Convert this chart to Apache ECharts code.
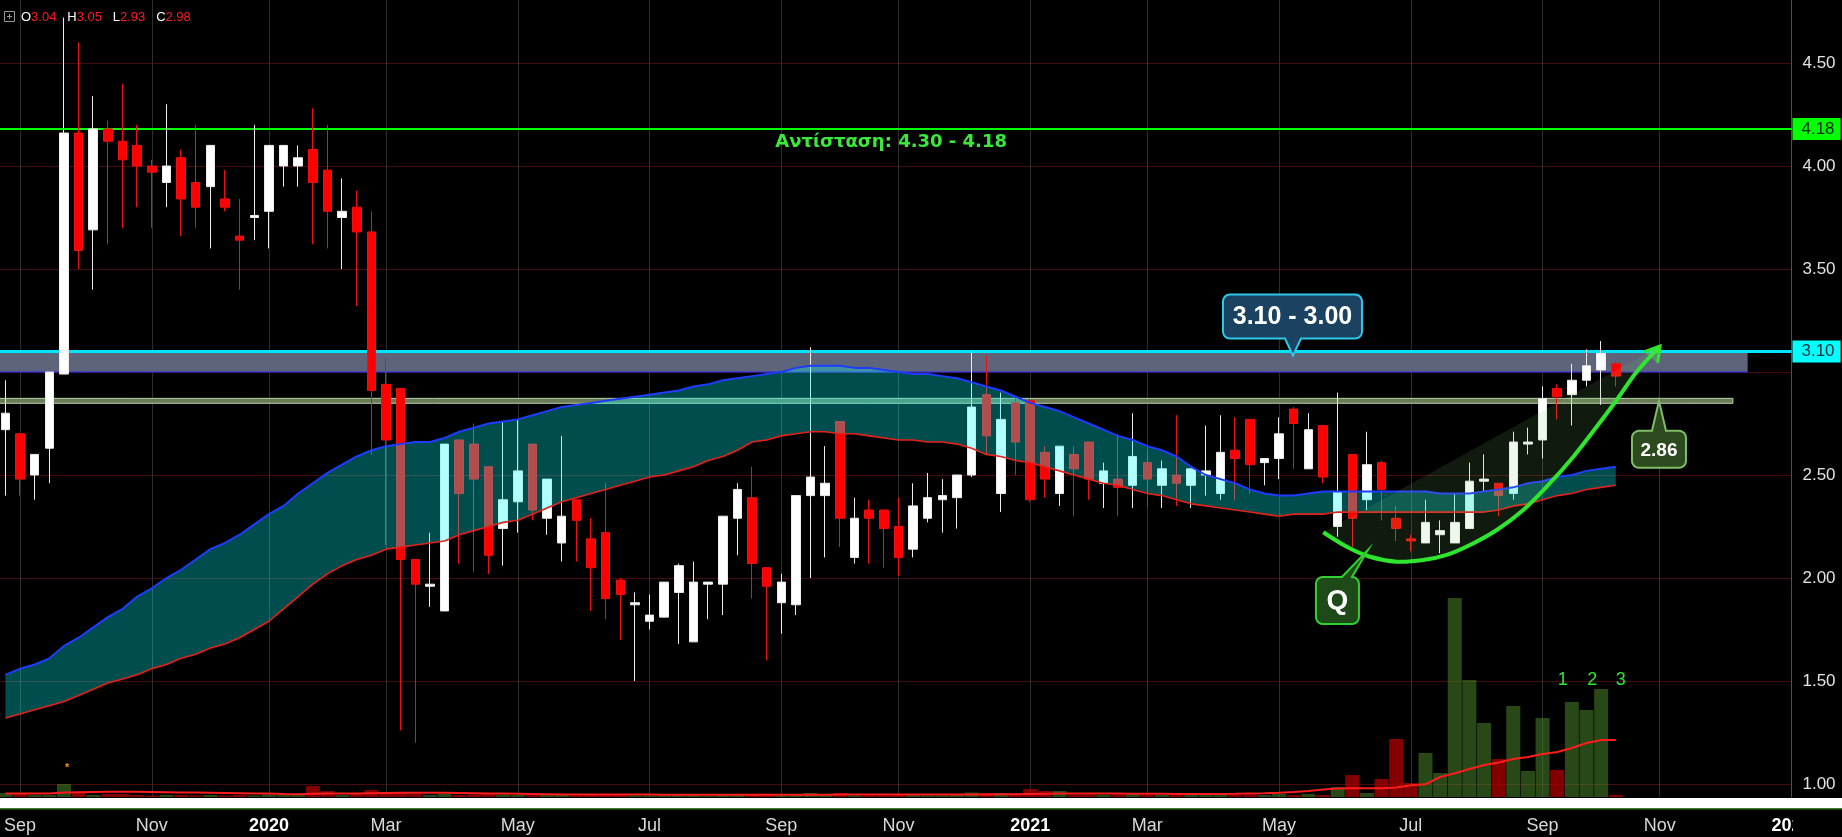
<!DOCTYPE html>
<html>
<head>
<meta charset="utf-8">
<title>Weekly chart</title>
<script src="https://cdn.jsdelivr.net/npm/echarts@6.0.0/dist/echarts.min.js"></script>
<style>
html, body { margin: 0; padding: 0; background: #000; overflow: hidden; }
#chart { width: 1842px; height: 837px; }
</style>
</head>
<body>
<div id="chart"></div>
<script>
// Weekly bars; the first bar is the week of 2019-08-26.
const firstWeek = '2019-08-26';

const opens = [
  2.72,2.70,2.50,2.63,2.99,4.16,3.69,4.18,4.12,4.10,
  4.00,3.92,4.04,3.92,3.90,3.84,3.66,3.75,3.78,4.00,
  4.00,4.08,3.98,3.75,3.80,3.68,2.94,2.92,2.09,1.96,
  1.84,2.67,2.65,2.54,2.24,2.37,2.65,2.29,2.17,2.38,
  2.19,2.22,1.99,1.87,1.79,1.81,1.93,1.69,1.97,1.97,
  2.29,2.39,2.05,1.88,1.87,2.40,2.40,2.76,2.10,2.33,
  2.33,2.25,2.14,2.29,2.38,2.39,2.50,2.89,2.41,2.85,
  2.86,2.61,2.41,2.60,2.66,2.46,2.48,2.45,2.56,2.45,
  2.50,2.45,2.50,2.41,2.62,2.77,2.56,2.58,2.82,2.53,
  2.74,2.25,2.60,2.38,2.56,2.29,2.19,2.17,2.21,2.17,
  2.24,2.47,2.46,2.41,2.65,2.67,2.92,2.89,2.96,3.01,3.04
];
const highs = [
  2.96,2.70,2.60,3.00,4.72,4.60,4.34,4.22,4.40,4.20,
  4.03,4.30,4.08,4.20,4.10,3.98,3.84,4.20,4.10,4.10,
  4.10,4.28,4.20,3.94,3.88,3.78,3.07,2.92,2.09,2.22,
  2.65,2.67,2.75,2.54,2.76,2.77,2.65,2.48,2.69,2.38,
  2.29,2.46,2.00,1.93,1.92,1.98,2.07,2.08,1.98,2.30,
  2.46,2.54,2.05,2.02,2.40,3.12,2.64,2.76,2.39,2.38,
  2.33,2.39,2.46,2.51,2.48,2.50,3.10,3.08,2.90,2.88,
  2.87,2.64,2.64,2.64,2.66,2.56,2.70,2.80,2.62,2.57,
  2.79,2.53,2.74,2.79,2.78,2.77,2.58,2.78,2.83,2.80,
  2.74,2.90,2.60,2.71,2.57,2.35,2.21,2.38,2.28,2.41,
  2.56,2.60,2.46,2.71,2.73,2.93,2.94,3.04,3.11,3.15,3.05
];
const lows = [
  2.40,2.40,2.38,2.46,2.99,3.50,3.40,3.62,3.70,3.80,
  3.70,3.80,3.66,3.70,3.60,3.78,3.40,3.64,3.60,3.90,
  3.90,3.62,3.60,3.50,3.32,2.60,2.16,1.26,1.20,1.86,
  1.84,2.07,2.03,2.02,2.06,2.22,2.28,2.21,2.08,2.08,
  1.84,1.80,1.70,1.50,1.75,1.81,1.68,1.69,1.80,1.82,
  2.11,1.90,1.60,1.73,1.82,2.00,2.10,2.15,2.07,2.07,
  2.05,2.01,2.10,2.27,2.22,2.24,2.49,2.60,2.32,2.50,
  2.37,2.39,2.35,2.30,2.38,2.34,2.30,2.34,2.34,2.34,
  2.35,2.34,2.40,2.38,2.38,2.41,2.45,2.48,2.53,2.53,
  2.46,2.20,2.15,2.33,2.28,2.18,2.13,2.17,2.12,2.17,
  2.24,2.42,2.30,2.38,2.60,2.58,2.77,2.74,2.93,2.84,2.93
];
const closes = [
  2.80,2.48,2.60,3.00,4.16,3.59,4.18,4.12,4.03,4.00,
  3.97,4.00,3.84,3.80,4.10,3.80,3.64,3.76,4.10,4.10,
  4.04,3.92,3.78,3.78,3.68,2.91,2.67,2.09,1.97,1.97,
  2.65,2.41,2.48,2.11,2.38,2.52,2.33,2.48,2.30,2.28,
  2.05,1.90,1.92,1.88,1.82,1.98,2.06,1.98,1.98,2.30,
  2.43,2.07,1.96,1.98,2.40,2.49,2.46,2.29,2.29,2.29,
  2.24,2.10,2.35,2.39,2.40,2.50,2.83,2.69,2.77,2.66,
  2.38,2.48,2.64,2.53,2.48,2.52,2.44,2.59,2.48,2.53,
  2.46,2.53,2.52,2.61,2.58,2.55,2.58,2.70,2.75,2.72,
  2.49,2.42,2.29,2.55,2.43,2.24,2.18,2.27,2.23,2.27,
  2.47,2.48,2.40,2.66,2.66,2.87,2.88,2.96,3.03,3.09,2.98
];
// Weekly volume, thousands of shares
const volumes = [
  40,40,20,20,130,50,20,30,30,20,
  15,20,20,15,20,15,20,15,25,20,
  20,110,60,20,30,70,45,50,30,20,
  30,20,25,30,25,20,25,20,25,15,
  20,30,20,15,15,20,20,20,10,25,
  20,30,25,15,25,40,20,40,15,15,
  15,20,20,15,15,20,45,40,40,35,
  80,60,60,25,25,20,25,30,20,20,
  25,20,20,30,20,25,20,30,20,30,
  20,100,220,40,180,580,140,440,240,1990,
  1170,740,380,910,260,790,270,950,870,1080,20
];
const volumeAvg = [
  35,36,36,36,45,48,50,52,52,52,
  50,48,46,44,42,40,38,36,34,30,
  28,32,34,34,35,38,40,42,42,42,
  42,40,38,36,34,32,30,28,26,25,
  25,25,24,24,24,23,23,22,22,22,
  22,22,22,22,22,23,23,24,24,24,
  24,24,24,24,24,24,25,26,27,28,
  30,32,34,34,34,34,34,33,32,32,
  30,30,30,30,32,35,38,42,50,60,
  75,85,87,87,87,95,118,127,200,237,
  280,320,345,380,400,430,450,490,540,570,570
];
// Moving-average envelope (upper / lower)
const bandUpper = [
  1.53,1.56,1.58,1.61,1.67,1.71,1.76,1.81,1.85,1.91,
  1.95,2.00,2.04,2.09,2.14,2.17,2.21,2.26,2.31,2.35,
  2.41,2.46,2.51,2.55,2.59,2.62,2.64,2.65,2.66,2.66,
  2.68,2.71,2.73,2.75,2.76,2.77,2.79,2.81,2.83,2.84,
  2.85,2.86,2.87,2.88,2.89,2.90,2.91,2.93,2.94,2.96,
  2.97,2.98,2.99,3.00,3.02,3.03,3.03,3.03,3.02,3.02,
  3.01,3.00,2.99,2.99,2.98,2.97,2.95,2.93,2.91,2.88,
  2.85,2.83,2.81,2.78,2.75,2.72,2.69,2.67,2.64,2.62,
  2.59,2.54,2.50,2.48,2.46,2.43,2.41,2.40,2.40,2.41,
  2.42,2.42,2.42,2.42,2.42,2.42,2.42,2.42,2.41,2.41,
  2.41,2.42,2.43,2.44,2.46,2.47,2.49,2.50,2.52,2.53,2.54
];
const bandLower = [
  1.32,1.34,1.36,1.38,1.40,1.43,1.46,1.49,1.51,1.53,
  1.56,1.58,1.61,1.63,1.66,1.68,1.71,1.75,1.79,1.85,
  1.91,1.97,2.02,2.06,2.09,2.11,2.14,2.15,2.16,2.17,
  2.18,2.21,2.23,2.25,2.27,2.28,2.31,2.34,2.37,2.39,
  2.41,2.43,2.45,2.47,2.49,2.50,2.52,2.54,2.57,2.59,
  2.62,2.66,2.67,2.69,2.70,2.71,2.71,2.70,2.70,2.69,
  2.68,2.67,2.67,2.66,2.66,2.65,2.63,2.60,2.59,2.57,
  2.56,2.54,2.52,2.50,2.48,2.46,2.45,2.43,2.41,2.40,
  2.38,2.36,2.35,2.34,2.33,2.32,2.31,2.30,2.31,2.31,
  2.31,2.32,2.32,2.32,2.32,2.32,2.32,2.32,2.32,2.32,
  2.32,2.32,2.33,2.35,2.36,2.38,2.40,2.41,2.43,2.44,2.45
];
// Time-axis labels: week on which each label sits, and its text
const timeTicks = [
  ['2019-09-02', 'Sep'], ['2019-11-04', 'Nov'], ['2019-12-30', '2020'],
  ['2020-02-24', 'Mar'], ['2020-04-27', 'May'], ['2020-06-29', 'Jul'],
  ['2020-08-31', 'Sep'], ['2020-10-26', 'Nov'], ['2020-12-28', '2021'],
  ['2021-02-22', 'Mar'], ['2021-04-26', 'May'], ['2021-06-28', 'Jul'],
  ['2021-08-30', 'Sep'], ['2021-10-25', 'Nov'], ['2021-12-27', '2022']
];
// Levels
const resistanceLevel = 4.18;
const resistanceText = 'Αντίσταση: 4.30 - 4.18';
const zoneTop = 3.10;
const zoneBottom = 3.00;
const supportLevel = 2.86;

// ---------------------------------------------------------------
const FONT = "'Liberation Sans', Arial, sans-serif";
const WEEK = 7 * 864e5;
const SLOTS = 124;               // one empty week before, future weeks after
const t0 = Date.parse(firstWeek + 'T00:00:00Z') - WEEK;
const weeks = Array.from({ length: SLOTS }, (_, k) => new Date(t0 + k * WEEK).toISOString().slice(0, 10));
const tickText = new Map(timeTicks);
const isTick = (idx, val) => tickText.has(val);
const last = opens.length - 1;

const candleData = opens.map((o, i) => [i + 1, o, closes[i], lows[i], highs[i]]);
const lowerData = bandLower.map((v, i) => [i + 1, v]);
const spreadData = bandUpper.map((v, i) => [i + 1, +(v - bandLower[i]).toFixed(3)]);
const volumeData = volumes.map((v, i) => ({
  value: [i + 1, v],
  itemStyle: { color: closes[i] >= opens[i] ? 'rgba(72,132,42,0.55)' : 'rgba(160,0,0,0.82)' }
}));
const volumeAvgData = volumeAvg.map((v, i) => [i + 1, v]);

const badge = (bg, fg) => ({
  show: true, position: 'end', distance: 1,
  color: fg, backgroundColor: bg, padding: [3, 6, 2, 9],
  fontSize: 17, lineHeight: 17, fontFamily: FONT
});

const gridL = -9.24, gridR = 50.52;

const option = {
  backgroundColor: '#000000',
  animation: false,
  grid: [
    { left: gridL, right: gridR, top: -40, bottom: 53, outerBoundsMode: 'none' },
    { left: gridL, right: gridR, top: 597, bottom: 40, outerBoundsMode: 'none' }
  ],
  xAxis: [
    {
      type: 'category', gridIndex: 0, data: weeks, boundaryGap: false,
      axisLine: { show: false }, axisTick: { show: false }, axisLabel: { show: false },
      splitLine: { show: true, interval: isTick, lineStyle: { color: '#2e2e2e', width: 1 } }
    },
    {
      type: 'category', gridIndex: 1, data: weeks, boundaryGap: false,
      axisLine: { show: false }, axisTick: { show: false },
      axisLabel: {
        show: true, interval: isTick, margin: 20,
        color: '#d8d8d8', fontSize: 18, fontFamily: FONT,
        formatter: (val) => {
          const t = tickText.get(val) || '';
          return /^\d{4}$/.test(t) ? '{y|' + t + '}' : t;
        },
        rich: { y: { color: '#ffffff', fontWeight: 'bold', fontSize: 18, fontFamily: FONT } }
      },
      splitLine: { show: true, interval: isTick, lineStyle: { color: '#2e2e2e', width: 1 } }
    }
  ],
  yAxis: [
    {
      type: 'value', gridIndex: 0, position: 'right', min: 1, max: 5, interval: 0.5,
      axisLine: { show: true, lineStyle: { color: '#4a5a32', width: 1 } },
      axisTick: { show: false },
      axisLabel: {
        color: '#e2e2e2', fontSize: 17, fontFamily: FONT, margin: 11,
        formatter: (v) => (Math.abs(v - 3) < 1e-9 || v > 4.9) ? '' : v.toFixed(2)
      },
      splitLine: { show: true, lineStyle: { color: '#470c0c', width: 1 } }
    },
    {
      type: 'value', gridIndex: 1, position: 'right', min: 0, max: 2000,
      axisLine: { show: true, lineStyle: { color: '#4a5a32', width: 1 } },
      axisTick: { show: false }, axisLabel: { show: false }, splitLine: { show: false }
    }
  ],
  series: [
    {
      name: 'Price', type: 'candlestick', xAxisIndex: 0, yAxisIndex: 0,
      data: candleData, encode: { x: 0, y: [1, 2, 3, 4] },
      barWidth: 9, clip: false, z: 2,
      itemStyle: {
        color: '#ffffff', color0: '#ff0000',
        borderColor: '#ececec', borderColor0: '#f01010', borderWidth: 1
      },
      markArea: {
        silent: true, z: 1,
        data: [
          [
            { coord: [0, zoneTop], itemStyle: { color: '#5e6479', borderColor: '#2a2aff', borderWidth: 1 } },
            { coord: [120, zoneBottom] }
          ],
          [
            { coord: [0, supportLevel + 0.012], itemStyle: { color: '#6a7b55', borderColor: '#b4d0ac', borderWidth: 1 } },
            { coord: [119, supportLevel - 0.012] }
          ]
        ]
      },
      markLine: {
        silent: true, z: 1.5, symbol: ['none', 'none'],
        data: [
          {
            yAxis: resistanceLevel,
            lineStyle: { color: '#00ff00', width: 2, type: 'solid' },
            label: badge('#00ff00', '#0a2a0a')
          },
          {
            yAxis: resistanceLevel,
            lineStyle: { color: '#00ff00', width: 2, type: 'solid' },
            label: {
              show: true, position: 'insideMiddleBottom', distance: 4,
              formatter: resistanceText,
              color: '#3aea3a', fontSize: 18, fontWeight: 'bold', fontFamily: "'DejaVu Sans', Verdana, sans-serif"
            }
          },
          {
            yAxis: zoneTop,
            lineStyle: { color: '#00e5ff', width: 3, type: 'solid' },
            label: badge('#00ffff', '#06303a')
          },
          {
            yAxis: closes[last],
            lineStyle: { color: '#ff0000', width: 0, opacity: 0 },
            label: badge('#ff0000', '#ffffff')
          }
        ].map(d => Object.assign(d, { label: Object.assign({ formatter: d.yAxis.toFixed(2) }, d.label) }))
      }
    },
    {
      name: 'Envelope lower', type: 'line', xAxisIndex: 0, yAxisIndex: 0, stack: 'envelope',
      data: lowerData, symbol: 'none', z: 4,
      lineStyle: { color: '#e3231b', width: 1.6 }
    },
    {
      name: 'Envelope upper', type: 'line', xAxisIndex: 0, yAxisIndex: 0, stack: 'envelope',
      data: spreadData, symbol: 'none', z: 3,
      lineStyle: { color: '#1e3cff', width: 2 },
      areaStyle: { color: 'rgba(0,255,255,0.30)', opacity: 1 }
    },
    {
      name: 'Volume', type: 'bar', xAxisIndex: 1, yAxisIndex: 1,
      data: volumeData, barWidth: 14, z: 1
    },
    {
      name: 'Volume MA', type: 'line', xAxisIndex: 1, yAxisIndex: 1,
      data: volumeAvgData, symbol: 'none', z: 2,
      lineStyle: { color: '#ff1c1c', width: 2 }
    }
  ]
};

const chart = echarts.init(document.getElementById('chart'));
chart.setOption(option);

// ---- drawn annotations, anchored in (week slot, price) space ----
const trendCurve = [
  [91.02, 2.222], [92.62, 2.152], [94.21, 2.103], [96.03, 2.079], [97.85, 2.087],
  [99.45, 2.112], [101.04, 2.160], [102.87, 2.233], [104.68, 2.330], [106.28, 2.443],
  [108.10, 2.589], [109.69, 2.734], [111.06, 2.864], [112.43, 3.001], [114.02, 3.126]
];
const rangeNote = { text: zoneTop.toFixed(2) + ' - ' + zoneBottom.toFixed(2), at: [88.95, 3.08] };
const supportNote = { text: supportLevel.toFixed(2), at: [113.95, supportLevel] };
const patternNote = { text: 'Q', at: [94.07, 2.136] };
const countNotes = [['1', 107.37], ['2', 109.39], ['3', 111.33]];

function px(k, p) {
  const a = chart.convertToPixel({ gridIndex: 0 }, [0, p]);
  const b = chart.convertToPixel({ gridIndex: 0 }, [1, p]);
  return [a[0] + (b[0] - a[0]) * k, a[1]];
}

// rounded box with a pointer on its top or bottom edge
function calloutShape(x, y, w, h, r, side, b0, b1, tip) {
  const pts = [];
  const arc = (cx, cy, a0, a1) => {
    for (let s = 0; s <= 6; s++) {
      const a = (a0 + (a1 - a0) * s / 6) * Math.PI / 180;
      pts.push([cx + r * Math.cos(a), cy + r * Math.sin(a)]);
    }
  };
  arc(x + r, y + r, 180, 270);
  if (side === 'top') pts.push([b0, y], tip, [b1, y]);
  arc(x + w - r, y + r, 270, 360);
  arc(x + w - r, y + h - r, 0, 90);
  if (side === 'bottom') pts.push([b1, y + h], tip, [b0, y + h]);
  arc(x + r, y + h - r, 90, 180);
  return pts;
}

const g = [];

// wedge between chord and curve
const curvePx = trendCurve.map(([k, p]) => px(k, p));
g.push({ type: 'polygon', z: 5, silent: true, shape: { points: curvePx }, style: { fill: 'rgba(130,200,110,0.13)' } });
g.push({ type: 'polyline', z: 9, silent: true, shape: { points: curvePx, smooth: 0.35 }, style: { stroke: '#2fe62f', lineWidth: 4, fill: null } });
{
  const tip = curvePx[curvePx.length - 1], prev = curvePx[curvePx.length - 3];
  const ang = Math.atan2(tip[1] - prev[1], tip[0] - prev[0]);
  const wing = (d) => [tip[0] + 17 * Math.cos(ang + d), tip[1] + 17 * Math.sin(ang + d)];
  const w1 = wing(2.6), w2 = wing(-2.6);
  g.push({ type: 'polygon', z: 9, silent: true, shape: { points: [w1, tip, w2] }, style: { fill: 'rgba(80,230,80,0.35)' } });
  g.push({ type: 'polyline', z: 9, silent: true, shape: { points: [w1, tip, w2] }, style: { stroke: '#2fe62f', lineWidth: 3, fill: null } });
}

// "3.10 - 3.00" callout, pointer down
{
  const t = px(rangeNote.at[0], rangeNote.at[1]);
  const x = t[0] - 70, y = t[1] - 61, w = 139, h = 44;
  g.push({ type: 'polygon', z: 20, silent: true,
    shape: { points: calloutShape(x, y, w, h, 7, 'bottom', t[0] - 8, t[0] + 8, t) },
    style: { fill: '#1c4262', stroke: '#2ec8ea', lineWidth: 2 } });
  g.push({ type: 'text', z: 21, silent: true, x: x + w / 2, y: y + h / 2 + 1,
    style: { text: rangeNote.text, fill: '#ffffff', font: 'bold 25px ' + FONT, align: 'center', verticalAlign: 'middle' } });
}
// "2.86" callout, pointer up
{
  const t = px(supportNote.at[0], supportNote.at[1]);
  const x = t[0] - 27, y = t[1] + 30, w = 54, h = 37;
  g.push({ type: 'polygon', z: 20, silent: true,
    shape: { points: calloutShape(x, y, w, h, 7, 'top', t[0] - 7, t[0] + 7, t) },
    style: { fill: '#2c4a1e', stroke: '#7fbd66', lineWidth: 2 } });
  g.push({ type: 'text', z: 21, silent: true, x: x + w / 2, y: y + h / 2 + 1,
    style: { text: supportNote.text, fill: '#ffffff', font: 'bold 19px ' + FONT, align: 'center', verticalAlign: 'middle' } });
}
// "Q" callout, pointer up to the right
{
  const t = px(patternNote.at[0], patternNote.at[1]);
  const x = t[0] - 52, y = t[1] + 27, w = 43, h = 47;
  g.push({ type: 'polygon', z: 20, silent: true,
    shape: { points: calloutShape(x, y, w, h, 7, 'top', x + w - 17, x + w - 7, t) },
    style: { fill: '#1e4a19', stroke: '#2fd02f', lineWidth: 2 } });
  g.push({ type: 'text', z: 21, silent: true, x: x + w / 2, y: y + h / 2 + 1,
    style: { text: patternNote.text, fill: '#ffffff', font: 'bold 28px ' + FONT, align: 'center', verticalAlign: 'middle' } });
}
// volume count marks
countNotes.forEach(([s, k]) => {
  const p = px(k, 1.505);
  g.push({ type: 'text', z: 21, silent: true, x: p[0], y: p[1],
    style: { text: s, fill: '#2ee62e', font: '18px ' + FONT, align: 'center', verticalAlign: 'middle' } });
});
// small event marker
{
  const p = px(5.21, 1.078);
  g.push({ type: 'text', z: 21, silent: true, x: p[0], y: p[1],
    style: { text: '*', fill: '#ff9a00', font: 'bold 11px ' + FONT, align: 'center', verticalAlign: 'middle' } });
}

// OHLC readout of the last bar
const ohlc = [['O', opens[last]], ['H', highs[last]], ['L', lows[last]], ['C', closes[last]]];
g.push({ type: 'rect', z: 30, silent: true, shape: { x: 4.5, y: 11.5, width: 10, height: 10 },
  style: { fill: null, stroke: '#9a9a9a', lineWidth: 1 } });
g.push({ type: 'polyline', z: 30, silent: true, shape: { points: [[7, 16.5], [12, 16.5]] }, style: { stroke: '#9a9a9a', lineWidth: 1 } });
g.push({ type: 'polyline', z: 30, silent: true, shape: { points: [[9.5, 14], [9.5, 19]] }, style: { stroke: '#9a9a9a', lineWidth: 1 } });
g.push({ type: 'text', z: 30, silent: true, x: 21, y: 17,
  style: {
    text: ohlc.map(([k, v]) => '{w|' + k + '}{r|' + v.toFixed(2) + '}').join('   '),
    font: '13px ' + FONT, fill: '#ffffff', verticalAlign: 'middle',
    rich: { w: { fill: '#ffffff', font: '13px ' + FONT }, r: { fill: '#ff1a1a', font: '13px ' + FONT } }
  } });

// time-scale separator strip and price-scale corner
g.push({ type: 'rect', z: 40, silent: true, shape: { x: 0, y: 798, width: 1842, height: 10 }, style: { fill: '#ffffff' } });
g.push({ type: 'rect', z: 40, silent: true, shape: { x: 0, y: 808, width: 1842, height: 1.5 }, style: { fill: '#3c7d2a' } });
g.push({ type: 'rect', z: 40, silent: true, shape: { x: 1793, y: 810, width: 49, height: 27 }, style: { fill: '#000000' } });

chart.setOption({ graphic: g });
</script>
</body>
</html>
